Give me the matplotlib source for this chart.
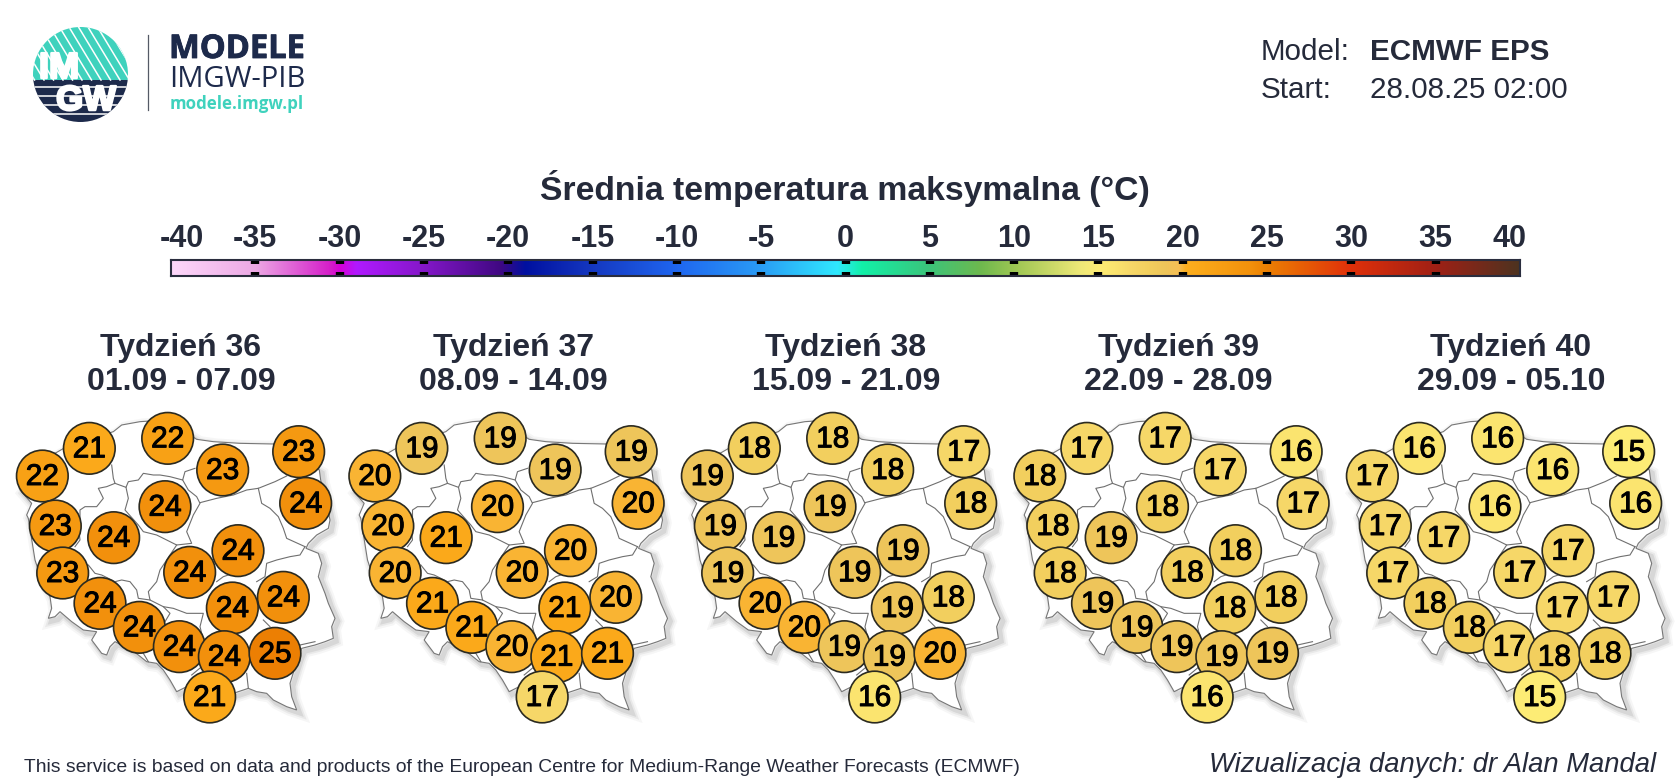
import matplotlib
matplotlib.use("Agg")
import matplotlib.pyplot as plt
import matplotlib.patheffects as pe
from matplotlib import font_manager
import numpy as np
from matplotlib.colors import LinearSegmentedColormap
from matplotlib.patches import Circle, Polygon, Rectangle

plt.rcParams["font.family"] = ["Liberation Sans", "DejaVu Sans"]

# forecast values per week, same station order in every list
week_titles = ["Tydzień 36", "Tydzień 37", "Tydzień 38", "Tydzień 39", "Tydzień 40"]
week_dates = ["01.09 - 07.09", "08.09 - 14.09", "15.09 - 21.09", "22.09 - 28.09", "29.09 - 05.10"]
week36 = [21, 22, 23, 23, 22, 24, 24, 23, 24, 24, 24, 23, 24, 24, 24, 24, 24, 24, 25, 21]
week37 = [19, 19, 19, 19, 20, 20, 20, 20, 21, 20, 20, 20, 20, 21, 21, 21, 20, 21, 21, 17]
week38 = [18, 18, 18, 17, 19, 18, 19, 19, 19, 19, 19, 19, 18, 19, 20, 20, 19, 19, 20, 16]
week39 = [17, 17, 17, 16, 18, 17, 18, 18, 19, 18, 18, 18, 18, 18, 19, 19, 19, 19, 19, 16]
week40 = [16, 16, 16, 15, 17, 16, 16, 17, 17, 17, 17, 17, 17, 17, 18, 18, 17, 18, 18, 15]
weeks = [week36, week37, week38, week39, week40]

# station places on the first map (3x map units)
station_x = [268, 503, 668, 896, 127, 917, 495, 166, 341, 714, 569, 188, 850, 697, 300, 418, 538, 673, 825, 629]
station_y = [145, 115, 210, 155, 228, 310, 320, 378, 413, 452, 517, 519, 592, 624, 610, 682, 740, 770, 760, 891]

# colour scale
scale_ticks = list(range(-35, 36, 5))
scale_values = [-40, -35, -30.5, -30, -29, -25, -20.5, -19, -15, -10, -5, -0.5, 1, 5, 8, 10, 14,
                15, 16, 17, 18, 19, 19.8, 20.2, 21, 24, 25, 30, 35, 40]
scale_colors = ["#fdd8fa", "#eca8e4", "#d41bc8", "#d600d6", "#b01aff", "#8417c8", "#400882", "#0010a0",
                "#1538c0", "#1f66f0", "#2a9cf5", "#30e8ff", "#12f0a8", "#3cc47a", "#6db84e", "#9cc653",
                "#efe878", "#fdec75", "#fbe46f", "#f6d768", "#f2cf5e", "#eec55a", "#f6bf55", "#fbae20",
                "#fba91a", "#f2910c", "#ec8003", "#e0300a", "#a02015", "#4d3320"]

# Poland outline and voivodeship borders (3x map units)
outline_x = [340, 365, 420, 500, 590, 640, 720, 820, 958, 962, 975, 990, 985, 950, 925, 918, 955, 965, 955, 975, 985,
             1005, 995, 1000, 975, 945, 905, 895, 870, 875, 890, 860, 820, 800, 770, 745, 700, 630, 560, 530, 510, 490,
             470, 440, 415, 395, 345, 330, 320, 305, 275, 290, 250, 215, 180, 165, 145, 155, 150, 125, 105, 85, 80, 95,
             60, 130, 200]
outline_y = [95, 75, 65, 60, 118, 125, 130, 132, 210, 240, 290, 360, 385, 405, 430, 445, 460, 490, 530, 580, 610,
             655, 680, 715, 725, 735, 745, 770, 850, 890, 930, 920, 900, 880, 875, 865, 880, 900, 860, 875, 840, 810,
             790, 785, 765, 750, 725, 740, 765, 760, 720, 695, 690, 665, 635, 650, 655, 625, 590, 540, 480, 355, 345, 310,
             270, 180, 140]
borders = [
    ([335, 340, 345, 320, 295, 310, 290, 255, 240, 240, 235, 240, 225],
     [195, 235, 250, 260, 265, 295, 320, 320, 330, 350, 375, 420, 440]),
    ([345, 378, 385, 415, 430, 460, 480, 510, 548, 555, 585], [250, 262, 245, 240, 220, 225, 225, 230, 240, 215, 205]),
    ([378, 385, 375, 415, 430, 470, 510, 530, 575, 560, 580, 600, 590, 565, 548],
     [262, 295, 330, 375, 395, 405, 425, 435, 430, 395, 345, 310, 290, 270, 240]),
    ([600, 650, 700, 740, 775, 825, 860], [308, 295, 285, 270, 265, 245, 228]),
    ([775, 785, 810, 835, 850, 860, 915], [265, 310, 325, 350, 385, 415, 440]),
    ([915, 900, 870, 830, 800, 795, 770], [440, 465, 470, 480, 490, 530, 545]),
    ([530, 480, 470, 445, 450, 490, 520, 560, 610, 600, 605],
     [435, 510, 545, 575, 600, 620, 625, 640, 640, 680, 700]),
    ([650, 670, 700], [545, 530, 520]),
    ([265, 285, 305, 345, 365, 390, 410, 415, 450], [495, 520, 525, 545, 540, 545, 570, 595, 600]),
    ([490, 510, 495], [620, 640, 665]),
    ([430, 445], [760, 785]),
    ([605, 575], [800, 825]),
    ([740, 745], [820, 865]),
    ([790, 810], [660, 680]),
    ([900, 945], [735, 725]),
]

model_name = "ECMWF EPS"
start_time = "28.08.25 02:00"
main_title = "Średnia temperatura maksymalna (°C)"
footer_left = "This service is based on data and products of the European Centre for Medium-Range Weather Forecasts (ECMWF)"
footer_right = "Wizualizacja danych: dr Alan Mandal"

TEXT = "#252a3a"
NAVY = "#1d2a4b"
TEAL = "#3fd2bd"
PANEL_STEP = 332.5

cmap = LinearSegmentedColormap.from_list(
    "tmax", [((v + 40) / 80, c) for v, c in zip(scale_values, scale_colors)], N=1024
)

# narrow face for the bubble numbers if the system has it
installed = {f.name for f in font_manager.fontManager.ttflist}
has_narrow = "Liberation Sans Narrow" in installed
bubble_font = "Liberation Sans Narrow" if has_narrow else "Liberation Sans"
bubble_size = 24 if has_narrow else 21.5
bubble_stroke = [pe.withStroke(linewidth=0.7, foreground="black")]

fig = plt.figure(figsize=(16.8, 7.8), dpi=100, facecolor="white")
ax = fig.add_axes([0, 0, 1, 1])
ax.set_xlim(0, 1680)
ax.set_ylim(780, 0)
ax.axis("off")

# logo
logo_clip = Circle((80.5, 74.5), 47.5, transform=ax.transData)
top = ax.add_patch(Rectangle((33, 27), 96, 53, color=TEAL, lw=0))
top.set_clip_path(logo_clip)
for k in np.arange(-40, 110, 9.5):
    ln, = ax.plot([33 + k, 33 + k + 32], [27, 80], color="white", lw=1.1)
    ln.set_clip_path(logo_clip)
bottom = ax.add_patch(Rectangle((33, 80), 96, 43, color=NAVY, lw=0))
bottom.set_clip_path(logo_clip)
for yy in [87, 96, 105, 114]:
    ln, = ax.plot([33, 129], [yy, yy], color="white", lw=1.1)
    ln.set_clip_path(logo_clip)
logo_stroke = [pe.withStroke(linewidth=1.8, foreground="white")]
ax.text(59, 78, "IM", color="white", fontsize=26, fontweight="bold", ha="center", va="baseline",
        path_effects=logo_stroke)
ax.text(86, 110, "GW", color="white", fontsize=25, fontweight="bold", ha="center", va="baseline",
        path_effects=logo_stroke)
ax.plot([148, 148], [35, 110], color="#555a66", lw=0.9)
ax.text(169, 58, "MODELE", color=NAVY, fontsize=23.5, fontweight="bold", family="Open Sans", va="baseline",
        path_effects=[pe.withStroke(linewidth=0.6, foreground=NAVY)])
ax.text(169, 87, "IMGW-PIB", color=NAVY, fontsize=21, family="Open Sans", va="baseline")
ax.text(170, 109, "modele.imgw.pl", color=TEAL, fontsize=12.2, fontweight="bold", family="Open Sans", va="baseline")

# model info
ax.text(1261, 60, "Model:", color=TEXT, fontsize=21.3, va="baseline")
ax.text(1370, 60, model_name, color=TEXT, fontsize=21.3, fontweight="bold", va="baseline")
ax.text(1261, 98, "Start:", color=TEXT, fontsize=21.3, va="baseline")
ax.text(1370, 98, start_time, color=TEXT, fontsize=21.3, va="baseline")

ax.text(845, 200, main_title, color=TEXT, fontsize=24.3, fontweight="bold", ha="center", va="baseline")

# colour bar on its own axis
cax = fig.add_axes([171 / 1680, 1 - 276 / 780, (1520 - 171) / 1680, 16 / 780])
cax.imshow(np.linspace(-40, 40, 1024).reshape(1, -1), cmap=cmap, vmin=-40, vmax=40,
           extent=(-40, 40, 0, 1), aspect="auto")
cax.set_xticks(scale_ticks)
cax.set_xticklabels([str(t) for t in scale_ticks], fontsize=22, fontweight="bold", color=TEXT)
cax.set_yticks([])
cax.tick_params(axis="x", direction="in", top=True, bottom=True, labeltop=True, labelbottom=False,
                length=3.2, width=6, color="black", pad=4)
for sp in cax.spines.values():
    sp.set_color("#2a2d3e")
    sp.set_linewidth(1.5)
# the end labels sit just inside the bar ends
for val, off in [(-40, 7.5), (40, -7.5)]:
    cax.annotate(str(val), xy=(val, 1), xytext=(off, 4), textcoords="offset points", ha="center", va="bottom",
                 fontsize=22, fontweight="bold", color=TEXT, annotation_clip=False)

# weekly maps
for i, values in enumerate(weeks):
    dx = i * PANEL_STEP
    ax.text(181 + dx, 356, week_titles[i], color=TEXT, fontsize=23, fontweight="bold", ha="center", va="baseline")
    ax.text(181 + dx, 390, week_dates[i], color=TEXT, fontsize=23, fontweight="bold", ha="center", va="baseline")

    ox = np.array(outline_x) / 3 + dx
    oy = np.array(outline_y) / 3 + 400
    for lw, a in [(9, 0.05), (6, 0.08), (3.5, 0.12)]:
        ax.add_patch(Polygon(np.c_[ox + 3, oy + 3], closed=True, fc="none", ec="#555555", lw=lw, alpha=a, zorder=1))
    ax.add_patch(Polygon(np.c_[ox, oy], closed=True, fc="white", ec="#777777", lw=0.8, zorder=2))
    for bx, by in borders:
        ax.plot(np.array(bx) / 3 + dx, np.array(by) / 3 + 400, color="#6f6f6f", lw=0.8, zorder=3)

    for j, v in enumerate(values):
        cx = station_x[j] / 3 + dx
        cy = station_y[j] / 3 + 400
        ax.add_patch(Circle((cx, cy), 25.8, fc=cmap((v + 40) / 80), ec="#2b2a20", lw=1.2, zorder=4 + j * 0.01))
        ax.text(cx, cy + 1, str(v), color="black", fontsize=bubble_size, ha="center", va="center",
                family=bubble_font, path_effects=bubble_stroke, zorder=4.005 + j * 0.01)

ax.text(24, 772, footer_left, color=TEXT, fontsize=13.85, va="baseline")
ax.text(1656, 772, footer_right, color=TEXT, fontsize=19.7, style="italic", ha="right", va="baseline")

fig.savefig("out.png", dpi=100)
plt.close(fig)
